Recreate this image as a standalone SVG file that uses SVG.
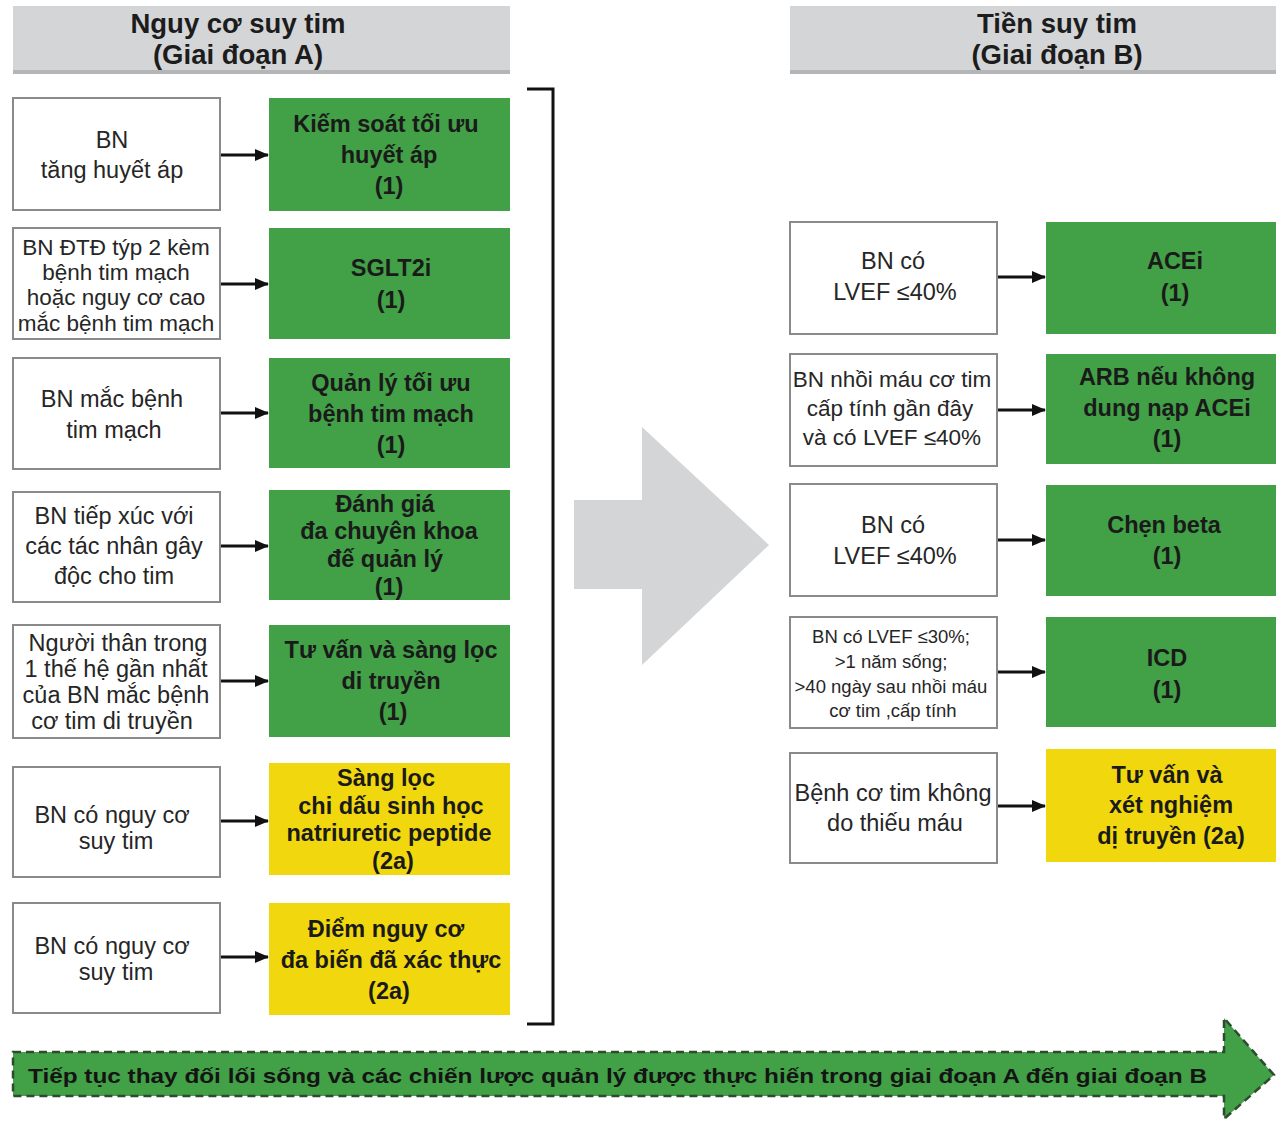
<svg xmlns="http://www.w3.org/2000/svg" width="1276" height="1121" viewBox="0 0 1276 1121">
  <defs>
    <marker id="ah" markerWidth="14" markerHeight="12" refX="13" refY="6" orient="auto" markerUnits="userSpaceOnUse">
      <path d="M0,0 L14,6 L0,12 Z" fill="#111"/>
    </marker>
    <style>
      .hdr { fill: #d4d5d7; }
      .hdrsh { fill: #b4b5b7; }
      .ht { font-family: "Liberation Sans", Arial, sans-serif; font-weight: bold; font-size: 27.5px; fill: #1c1c1c; text-anchor: middle; }
      .wb { fill: #ffffff; stroke: #8a8a8a; stroke-width: 2; }
      .gb { fill: #42a047; }
      .yb { fill: #f1d80e; }
      .wt { font-family: "Liberation Sans", Arial, sans-serif; font-size: 23.5px; fill: #262626; text-anchor: middle; }
      .ws { font-size: 22.5px; }
      .wxs { font-size: 18.5px; }
      .bt { font-family: "Liberation Sans", Arial, sans-serif; font-weight: bold; font-size: 23.5px; fill: #1a1a1a; text-anchor: middle; }
      .conn { stroke: #111; stroke-width: 3; fill: none; marker-end: url(#ah); }
    </style>
  </defs>
  <rect width="1276" height="1121" fill="#ffffff"/>

  <!-- stage headers -->
  <g id="header-a">
    <rect class="hdrsh" x="13" y="8" width="497" height="66"/>
    <rect class="hdr" x="13" y="6" width="497" height="64"/>
    <text class="ht" x="238" y="33">Nguy cơ suy tim</text>
    <text class="ht" x="238" y="64">(Giai đoạn A)</text>
  </g>
  <g id="header-b">
    <rect class="hdrsh" x="790" y="8" width="486" height="66"/>
    <rect class="hdr" x="790" y="6" width="486" height="64"/>
    <text class="ht" x="1057" y="33">Tiền suy tim</text>
    <text class="ht" x="1057" y="64">(Giai đoạn B)</text>
  </g>

  <!-- stage A: conditions -->
  <g id="a1-cond">
    <rect class="wb" x="13" y="98" width="207" height="112"/>
    <text class="wt" x="112" y="148">BN</text>
    <text class="wt" x="112" y="178">tăng huyết áp</text>
  </g>
  <g id="a2-cond">
    <rect class="wb" x="13" y="228" width="207" height="111"/>
    <text class="wt ws" x="116" y="255">BN ĐTĐ týp 2 kèm</text>
    <text class="wt ws" x="116" y="280">bệnh tim mạch</text>
    <text class="wt ws" x="116" y="305">hoặc nguy cơ cao</text>
    <text class="wt ws" x="116" y="331">mắc bệnh tim mạch</text>
  </g>
  <g id="a3-cond">
    <rect class="wb" x="13" y="358" width="207" height="111"/>
    <text class="wt" x="112" y="407">BN mắc bệnh</text>
    <text class="wt" x="114" y="438">tim mạch</text>
  </g>
  <g id="a4-cond">
    <rect class="wb" x="13" y="492" width="207" height="110"/>
    <text class="wt" x="114" y="524">BN tiếp xúc với</text>
    <text class="wt" x="114" y="554">các tác nhân gây</text>
    <text class="wt" x="114" y="584">độc cho tim</text>
  </g>
  <g id="a5-cond">
    <rect class="wb" x="13" y="625" width="207" height="113"/>
    <text class="wt" x="118" y="651">Người thân trong</text>
    <text class="wt" x="116" y="677">1 thế hệ gần nhất</text>
    <text class="wt" x="116" y="703">của BN mắc bệnh</text>
    <text class="wt" x="112" y="729">cơ tim di truyền</text>
  </g>
  <g id="a6-cond">
    <rect class="wb" x="13" y="767" width="207" height="110"/>
    <text class="wt" x="112" y="823">BN có nguy cơ</text>
    <text class="wt" x="116" y="849">suy tim</text>
  </g>
  <g id="a7-cond">
    <rect class="wb" x="13" y="903" width="207" height="110"/>
    <text class="wt" x="112" y="954">BN có nguy cơ</text>
    <text class="wt" x="116" y="980">suy tim</text>
  </g>

  <!-- stage A: recommendations -->
  <g id="a1-rec">
    <rect class="gb" x="269" y="98" width="241" height="113"/>
    <text class="bt" x="386" y="132">Kiếm soát tối ưu</text>
    <text class="bt" x="389" y="163">huyết áp</text>
    <text class="bt" x="389" y="194">(1)</text>
  </g>
  <g id="a2-rec">
    <rect class="gb" x="269" y="228" width="241" height="111"/>
    <text class="bt" x="391" y="276">SGLT2i</text>
    <text class="bt" x="391" y="308">(1)</text>
  </g>
  <g id="a3-rec">
    <rect class="gb" x="269" y="358" width="241" height="110"/>
    <text class="bt" x="391" y="391">Quản lý tối ưu</text>
    <text class="bt" x="391" y="422">bệnh tim mạch</text>
    <text class="bt" x="391" y="453">(1)</text>
  </g>
  <g id="a4-rec">
    <rect class="gb" x="269" y="490" width="241" height="110"/>
    <text class="bt" x="385" y="512">Đánh giá</text>
    <text class="bt" x="389" y="539">đa chuyên khoa</text>
    <text class="bt" x="385" y="567">đế quản lý</text>
    <text class="bt" x="389" y="595">(1)</text>
  </g>
  <g id="a5-rec">
    <rect class="gb" x="269" y="625" width="241" height="112"/>
    <text class="bt" x="391" y="658">Tư vấn và sàng lọc</text>
    <text class="bt" x="391" y="689">di truyền</text>
    <text class="bt" x="393" y="720">(1)</text>
  </g>
  <g id="a6-rec">
    <rect class="yb" x="269" y="763" width="241" height="112"/>
    <text class="bt" x="386" y="786">Sàng lọc</text>
    <text class="bt" x="391" y="814">chi dấu sinh học</text>
    <text class="bt" x="389" y="841">natriuretic peptide</text>
    <text class="bt" x="393" y="869">(2a)</text>
  </g>
  <g id="a7-rec">
    <rect class="yb" x="269" y="903" width="241" height="112"/>
    <text class="bt" x="386" y="937">Điểm nguy cơ</text>
    <text class="bt" x="391" y="968">đa biến đã xác thực</text>
    <text class="bt" x="389" y="999">(2a)</text>
  </g>

  <!-- bracket closing stage A -->
  <g id="bracket-a">
    <path d="M527,89 H553 V1024 H527" fill="none" stroke="#111" stroke-width="3"/>
  </g>

  <!-- transition arrow A to B -->
  <g id="transition-arrow">
    <path d="M574,500 H642 V427 L769,545 L642,665 V589 H574 Z" fill="#d4d5d7"/>
  </g>

  <!-- stage B: conditions -->
  <g id="b1-cond">
    <rect class="wb" x="790" y="222" width="207" height="112"/>
    <text class="wt" x="893" y="269">BN có</text>
    <text class="wt" x="895" y="300">LVEF ≤40%</text>
  </g>
  <g id="b2-cond">
    <rect class="wb" x="790" y="354" width="207" height="112"/>
    <text class="wt ws" x="892" y="387">BN nhồi máu cơ tim</text>
    <text class="wt ws" x="890" y="416">cấp tính gần đây</text>
    <text class="wt ws" x="892" y="445">và có LVEF ≤40%</text>
  </g>
  <g id="b3-cond">
    <rect class="wb" x="790" y="484" width="207" height="112"/>
    <text class="wt" x="893" y="533">BN có</text>
    <text class="wt" x="895" y="564">LVEF ≤40%</text>
  </g>
  <g id="b4-cond">
    <rect class="wb" x="790" y="617" width="207" height="111"/>
    <text class="wt wxs" x="891" y="643">BN có LVEF ≤30%;</text>
    <text class="wt wxs" x="891" y="668">&gt;1 năm sống;</text>
    <text class="wt wxs" x="891" y="693">&gt;40 ngày sau nhồi máu</text>
    <text class="wt wxs" x="893" y="717">cơ tim ,cấp tính</text>
  </g>
  <g id="b5-cond">
    <rect class="wb" x="790" y="753" width="207" height="110"/>
    <text class="wt" x="893" y="801">Bệnh cơ tim không</text>
    <text class="wt" x="895" y="831">do thiếu máu</text>
  </g>

  <!-- stage B: recommendations -->
  <g id="b1-rec">
    <rect class="gb" x="1046" y="222" width="230" height="112"/>
    <text class="bt" x="1175" y="269">ACEi</text>
    <text class="bt" x="1175" y="301">(1)</text>
  </g>
  <g id="b2-rec">
    <rect class="gb" x="1046" y="354" width="230" height="110"/>
    <text class="bt" x="1167" y="385">ARB nếu không</text>
    <text class="bt" x="1167" y="416">dung nạp ACEi</text>
    <text class="bt" x="1167" y="447">(1)</text>
  </g>
  <g id="b3-rec">
    <rect class="gb" x="1046" y="485" width="230" height="111"/>
    <text class="bt" x="1164" y="533">Chẹn beta</text>
    <text class="bt" x="1167" y="564">(1)</text>
  </g>
  <g id="b4-rec">
    <rect class="gb" x="1046" y="617" width="230" height="110"/>
    <text class="bt" x="1167" y="666">ICD</text>
    <text class="bt" x="1167" y="698">(1)</text>
  </g>
  <g id="b5-rec">
    <rect class="yb" x="1046" y="749" width="230" height="113"/>
    <text class="bt" x="1167" y="783">Tư vấn và</text>
    <text class="bt" x="1171" y="813">xét nghiệm</text>
    <text class="bt" x="1171" y="844">dị truyền (2a)</text>
  </g>

  <!-- connectors from condition to recommendation -->
  <g id="connectors">
    <path class="conn" d="M221,155 H268"/>
    <path class="conn" d="M221,284 H268"/>
    <path class="conn" d="M221,413 H268"/>
    <path class="conn" d="M221,546 H268"/>
    <path class="conn" d="M221,681 H268"/>
    <path class="conn" d="M221,821 H268"/>
    <path class="conn" d="M221,957 H268"/>
    <path class="conn" d="M998,277 H1045"/>
    <path class="conn" d="M998,410 H1045"/>
    <path class="conn" d="M998,540 H1045"/>
    <path class="conn" d="M998,672 H1045"/>
    <path class="conn" d="M998,806 H1045"/>
  </g>

  <!-- continuing lifestyle strategy banner -->
  <g id="lifestyle-banner">
    <path d="M13,1052 H1224 V1018 L1274,1075 L1224,1119 V1096 H13 Z" fill="#42a047" stroke="#2f4a30" stroke-width="2.5" stroke-dasharray="8,5"/>
    <text x="28" y="1083" textLength="1179" lengthAdjust="spacingAndGlyphs" font-family="Liberation Sans, Arial, sans-serif" font-weight="bold" font-size="21" fill="#141414">Tiếp tục thay đối lối sống và các chiến lược quản lý được thực hiến trong giai đoạn A đến giai đoạn B</text>
  </g>
</svg>
